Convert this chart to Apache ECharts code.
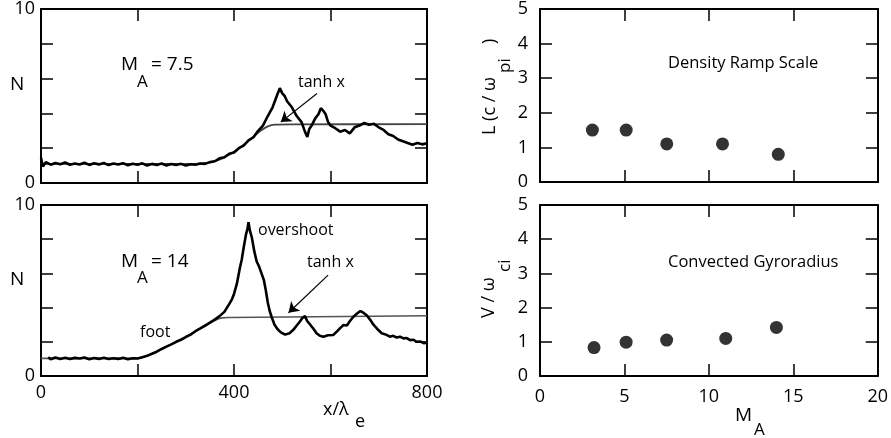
<!DOCTYPE html>
<html><head><meta charset="utf-8">
<script src="https://cdn.jsdelivr.net/npm/echarts@6/dist/echarts.min.js"></script>
<style>html,body{margin:0;padding:0;background:#fff}#c{width:891px;height:438px}</style>
</head><body><div id="c"></div>
<script>
// ---- data ----
const topX = [0,4,10,20,30,40,50,60,70,80,90,100,110,120,130,140,150,160,170,180,190,200,210,220,230,240,250,260,270,280,290,300,310,320,330,340,350,360,370,380,390,400,410,420,430,440,450,460,470,480,490,495,500,505,510,520,530,540,547,552,556,561,568,575,580,585,590,595,600,610,620,630,640,650,660,670,680,690,700,710,720,730,740,750,760,770,780,790,800];
const topN = [1.45,0.95,1.2,1.05,1.15,1.08,1.18,1.05,1.12,1.06,1.16,1.04,1.13,1.07,1.15,1.03,1.12,1.06,1.14,1.02,1.11,1.05,1.13,1.0,1.1,1.04,1.12,1.01,1.09,1.03,1.1,1.0,1.08,1.05,1.12,1.1,1.2,1.25,1.42,1.48,1.68,1.75,2.0,2.15,2.45,2.62,3.0,3.3,3.85,4.35,5.1,5.45,5.15,5.0,4.7,4.35,3.85,3.5,2.95,2.65,3.1,3.3,3.7,3.95,4.3,4.15,3.95,3.5,3.3,3.15,2.95,3.05,2.85,3.2,3.3,3.45,3.35,3.4,3.2,3.05,2.8,2.7,2.5,2.4,2.3,2.2,2.3,2.22,2.28];
const topTanhX = [0,320,350,375,400,420,440,455,470,485,520,800];
const topTanhN = [1.1,1.1,1.18,1.4,1.8,2.2,2.65,3.0,3.25,3.35,3.37,3.38];

const botX = [15,20,30,40,50,60,70,80,90,100,110,120,130,140,150,160,170,180,190,200,210,220,230,240,250,260,270,280,290,300,310,320,330,340,350,360,370,380,390,396,400,406,412,416,420,425,428,430,433,437,442,447,452,457,462,466,470,474,478,484,490,497,506,515,523,530,537,542,547,552,558,565,571,578,585,595,606,613,620,627,634,640,647,655,662,668,675,682,689,697,706,715,723,730,737,744,751,758,765,772,779,786,793,800];
const botN = [1.1,0.98,1.08,1.0,1.07,0.99,1.06,1.02,1.08,0.98,1.05,1.0,1.07,0.99,1.04,1.0,1.06,0.98,1.04,1.02,1.1,1.18,1.3,1.42,1.58,1.72,1.85,2.0,2.12,2.28,2.42,2.62,2.78,2.95,3.12,3.3,3.5,3.75,4.2,4.5,4.8,5.4,6.3,6.8,7.5,8.3,8.6,9.0,8.5,8.1,7.3,6.7,6.4,6.0,5.6,5.0,4.3,3.8,3.45,3.0,2.75,2.55,2.42,2.5,2.7,2.95,3.2,3.4,3.5,3.2,3.0,2.75,2.5,2.35,2.3,2.38,2.4,2.6,2.8,2.98,2.95,3.2,3.45,3.65,3.8,3.7,3.55,3.3,3.0,2.75,2.5,2.42,2.3,2.35,2.25,2.3,2.2,2.22,2.1,2.12,2.0,2.02,1.92,1.95];
const botTanhX = [0,200,230,260,290,320,345,360,375,390,800];
const botTanhN = [1.03,1.03,1.3,1.72,2.12,2.6,3.0,3.25,3.4,3.42,3.52];

const machL = [3.1,5.1,7.5,10.8,14.1];
const rampL = [1.5,1.5,1.1,1.1,0.8];
const machV = [3.2,5.1,7.5,11.0,14.0];
const gyroV = [0.83,0.99,1.05,1.1,1.42];

const leftYTicks = ['0','10'];
const leftXTicks = ['0','400','800'];

// ---- chart ----
const FONT = 'Open Sans';
const pair = (xs, ys) => xs.map((x, i) => [x, ys[i]]);
const chart = echarts.init(document.getElementById('c'));

const line2 = () => ({show: true, onZero: false, lineStyle: {color: '#000', width: 2}});
const tick = () => ({show: true, inside: true, length: 12, lineStyle: {color: '#000', width: 1.5}});

const grids = [
  {left: 41, top: 8, width: 386, height: 175},
  {left: 41, top: 205, width: 386, height: 171},
  {left: 540, top: 8, width: 338, height: 174},
  {left: 540, top: 205, width: 338, height: 171}
];

const xAxes = [], yAxes = [];
grids.forEach((g, gi) => {
  const left = gi < 2;
  const showX = gi === 1 || gi === 3;
  xAxes.push({
    type: 'value', gridIndex: gi, position: 'bottom',
    min: 0, max: left ? 800 : 20, interval: left ? 200 : 5,
    axisLine: line2(), axisTick: tick(), splitLine: {show: false},
    axisLabel: {show: showX, color: '#000', fontSize: 18, fontFamily: FONT, margin: left ? 8 : 12,
      formatter: left ? (v => (leftXTicks.indexOf(String(v)) >= 0 ? String(v) : '')) : '{value}'}
  });
  xAxes.push({
    type: 'value', gridIndex: gi, position: 'top',
    min: 0, max: left ? 800 : 20, interval: left ? 200 : 5,
    axisLine: line2(), axisTick: tick(), splitLine: {show: false}, axisLabel: {show: false}
  });
  yAxes.push({
    type: 'value', gridIndex: gi, position: 'left',
    min: 0, max: left ? 10 : 5, interval: left ? 2 : 1,
    axisLine: line2(), axisTick: tick(), splitLine: {show: false},
    axisLabel: {show: true, color: '#000', fontSize: 18, fontFamily: FONT, margin: left ? 6 : 12,
      formatter: left ? (v => (leftYTicks.indexOf(String(v)) >= 0 ? String(v) : '')) : '{value}'}
  });
  yAxes.push({
    type: 'value', gridIndex: gi, position: 'right',
    min: 0, max: left ? 10 : 5, interval: left ? 2 : 1,
    axisLine: line2(), axisTick: tick(), splitLine: {show: false}, axisLabel: {show: false}
  });
});

const arrowLine = (from, to) => ({
  silent: true, symbol: ['none', 'arrow'], symbolSize: 10,
  label: {show: false}, lineStyle: {color: '#000', width: 1.2, type: 'solid'},
  data: [[{coord: from}, {coord: to}]]
});

const series = [
  {type: 'line', xAxisIndex: 0, yAxisIndex: 0, data: pair(topTanhX, topTanhN), showSymbol: false, smooth: 0.3,
   lineStyle: {color: '#444', width: 1.8},
   markLine: arrowLine([572, 5.14], [497, 3.5])},
  {type: 'line', xAxisIndex: 0, yAxisIndex: 0, data: pair(topX, topN), showSymbol: false,
   lineStyle: {color: '#000', width: 2.6}},
  {type: 'line', xAxisIndex: 2, yAxisIndex: 2, data: pair(botTanhX, botTanhN), showSymbol: false, smooth: 0.3,
   lineStyle: {color: '#555', width: 1.6},
   markLine: arrowLine([595, 5.9], [513, 3.7])},
  {type: 'line', xAxisIndex: 2, yAxisIndex: 2, data: pair(botX, botN), showSymbol: false,
   lineStyle: {color: '#000', width: 2.6}},
  {type: 'scatter', xAxisIndex: 4, yAxisIndex: 4, data: pair(machL, rampL), symbolSize: 13,
   itemStyle: {color: '#000'}},
  {type: 'scatter', xAxisIndex: 6, yAxisIndex: 6, data: pair(machV, gyroV), symbolSize: 13,
   itemStyle: {color: '#000'}}
];

const txt = (x, y, text, size, rot) => ({
  type: 'text', x: x, y: y, rotation: rot || 0, silent: true,
  style: {text: text, fontSize: size, fontFamily: FONT, fill: '#000', align: 'left', verticalAlign: 'middle'}
});
const R = Math.PI / 2;

chart.setOption({
  animation: false,
  grid: grids,
  xAxis: xAxes,
  yAxis: yAxes,
  series: series,
  graphic: [
    // axis titles
    txt(10, 85, 'N', 19), txt(10, 280, 'N', 19),
    txt(323, 410, 'x/λ', 18), txt(355, 422, 'e', 18),
    txt(735, 416, 'M', 19), txt(754, 430, 'A', 17),
    txt(490, 135, 'L (c / ω', 18, R), txt(505, 73, 'pi', 17, R), txt(490, 44, ')', 18, R),
    txt(489, 318, 'V / ω', 18, R), txt(505, 272, 'ci', 17, R),
    // annotations
    txt(121, 65, 'M', 19), txt(137, 82, 'A', 17), txt(151, 65, '= 7.5', 19),
    txt(298, 82, 'tanh x', 16),
    txt(121, 262, 'M', 19), txt(137, 278, 'A', 17), txt(151, 262, '= 14', 19),
    txt(258, 230, 'overshoot', 16),
    txt(307, 262, 'tanh x', 16),
    txt(140, 332, 'foot', 16),
    txt(668, 63, 'Density Ramp Scale', 16.5),
    txt(668, 262, 'Convected Gyroradius', 16.5)
  ]
});
</script>
</body></html>
